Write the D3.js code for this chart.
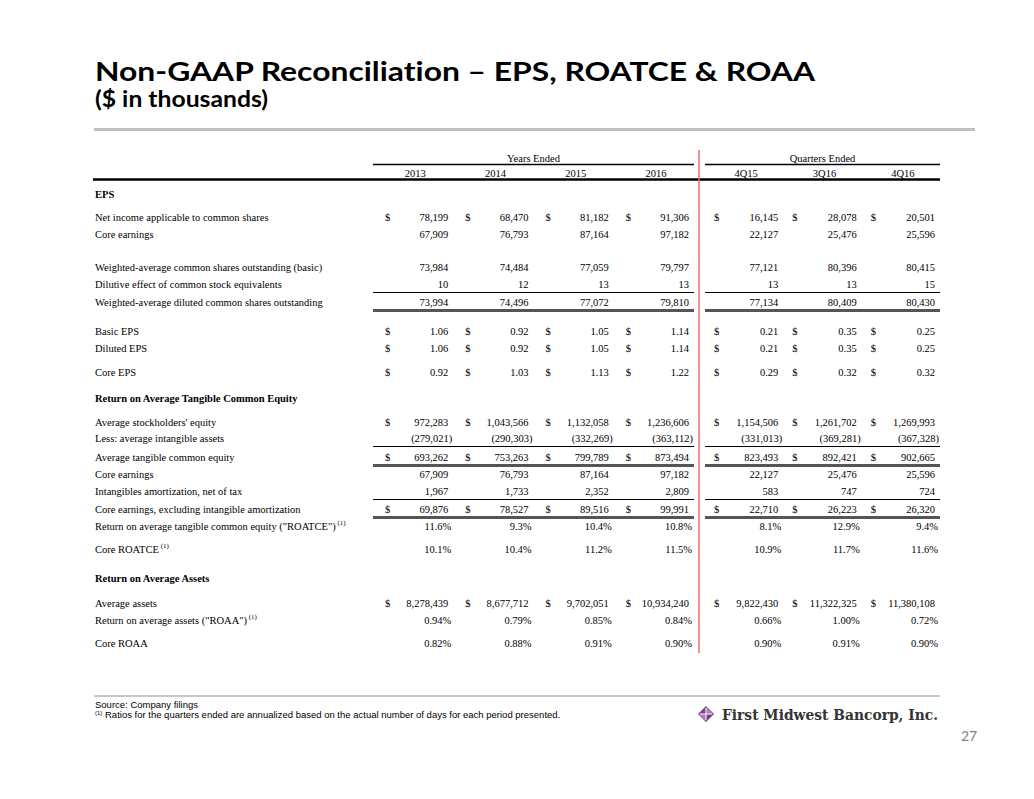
<!DOCTYPE html>
<html><head><meta charset="utf-8">
<script src="https://cdn.jsdelivr.net/npm/d3@7"></script>
<style>body{margin:0;background:#fff}svg{display:block}text{font-variant-ligatures:none}</style>
</head><body>
<svg id="chart" width="1034" height="799"></svg>
<script>
// ---------- DATA ----------
const yearCols = ["2013","2014","2015","2016"];
const quarterCols = ["4Q15","3Q16","4Q16"];
const columns = yearCols.concat(quarterCols);

const netIncome      = [78199, 68470, 81182, 91306, 16145, 28078, 20501];
const coreEarnings   = [67909, 76793, 87164, 97182, 22127, 25476, 25596];
const waBasic        = [73984, 74484, 77059, 79797, 77121, 80396, 80415];
const dilutive       = [10, 12, 13, 13, 13, 13, 15];
const waDiluted      = [73994, 74496, 77072, 79810, 77134, 80409, 80430];
const basicEPS       = [1.06, 0.92, 1.05, 1.14, 0.21, 0.35, 0.25];
const dilutedEPS     = [1.06, 0.92, 1.05, 1.14, 0.21, 0.35, 0.25];
const coreEPS        = [0.92, 1.03, 1.13, 1.22, 0.29, 0.32, 0.32];
const avgEquity      = [972283, 1043566, 1132058, 1236606, 1154506, 1261702, 1269993];
const avgIntangibles = [-279021, -290303, -332269, -363112, -331013, -369281, -367328];
const avgTCE         = [693262, 753263, 799789, 873494, 823493, 892421, 902665];
const intangAmort    = [1967, 1733, 2352, 2809, 583, 747, 724];
const coreExclAmort  = [69876, 78527, 89516, 99991, 22710, 26223, 26320];
const roatce         = [11.6, 9.3, 10.4, 10.8, 8.1, 12.9, 9.4];
const coreRoatce     = [10.1, 10.4, 11.2, 11.5, 10.9, 11.7, 11.6];
const avgAssets      = [8278439, 8677712, 9702051, 10934240, 9822430, 11322325, 11380108];
const roaa           = [0.94, 0.79, 0.85, 0.84, 0.66, 1.00, 0.72];
const coreRoaa       = [0.82, 0.88, 0.91, 0.90, 0.90, 0.91, 0.90];

const rows = [
  {label:"EPS", section:true},
  {label:"Net income applicable to common shares", v:netIncome, f:"int", dollar:true},
  {label:"Core earnings", v:coreEarnings, f:"int"},
  {label:"Weighted-average common shares outstanding (basic)", v:waBasic, f:"int"},
  {label:"Dilutive effect of common stock equivalents", v:dilutive, f:"int", rule:"thin"},
  {label:"Weighted-average diluted common shares outstanding", v:waDiluted, f:"int", rule:"thick"},
  {label:"Basic EPS", v:basicEPS, f:"eps", dollar:true},
  {label:"Diluted EPS", v:dilutedEPS, f:"eps", dollar:true},
  {label:"Core EPS", v:coreEPS, f:"eps", dollar:true},
  {label:"Return on Average Tangible Common Equity", section:true},
  {label:"Average stockholders' equity", v:avgEquity, f:"int", dollar:true},
  {label:"Less: average intangible assets", v:avgIntangibles, f:"int", rule:"thin"},
  {label:"Average tangible common equity", v:avgTCE, f:"int", dollar:true, rule:"thick"},
  {label:"Core earnings", v:coreEarnings, f:"int"},
  {label:"Intangibles amortization, net of tax", v:intangAmort, f:"int", rule:"thin"},
  {label:"Core earnings, excluding intangible amortization", v:coreExclAmort, f:"int", dollar:true, rule:"thick"},
  {label:"Return on average tangible common equity (\"ROATCE\")", v:roatce, f:"pct1", note:true},
  {label:"Core ROATCE", v:coreRoatce, f:"pct1", note:true},
  {label:"Return on Average Assets", section:true},
  {label:"Average assets", v:avgAssets, f:"int", dollar:true},
  {label:"Return on average assets (\"ROAA\")", v:roaa, f:"pct2", note:true},
  {label:"Core ROAA", v:coreRoaa, f:"pct2"}
];

// ---------- LAYOUT ----------
const svg = d3.select("#chart");
const serif = "'Liberation Serif','Times New Roman',serif";
const fs = 10.5;
const rowGaps = [0,23,17,33,17,18,29,17,24,26,24,16,19,17,17,18,17,23,29,25,17,23];
const rowStart = 194;
const rowY = d3.scaleOrdinal().domain(d3.range(rows.length))
  .range(d3.cumsum(rowGaps).map(g => rowStart + g));

const xYears = d3.scaleBand().domain(yearCols).range([373, 694]);
const xQuarters = d3.scaleBand().domain(quarterCols).range([705, 940]);
const isYear = c => yearCols.includes(c);
const xb = c => isYear(c) ? xYears(c) : xQuarters(c);
const bw = c => isYear(c) ? xYears.bandwidth() : xQuarters.bandwidth();

const fmt = {
  int: v => v < 0 ? "(" + d3.format(",")(-v) + ")" : d3.format(",")(v),
  eps: d3.format(".2f"),
  pct1: v => d3.format(".1f")(v) + "%",
  pct2: v => d3.format(".2f")(v) + "%"
};

// Title
svg.append("text").attr("x",95).attr("y",81).attr("font-family","Lato,'Open Sans',sans-serif")
  .attr("font-weight","bold").attr("font-size",27.5).attr("fill","#000")
  .attr("textLength",720).attr("lengthAdjust","spacingAndGlyphs")
  .text("Non-GAAP Reconciliation – EPS, ROATCE & ROAA");
svg.append("text").attr("x",95).attr("y",107).attr("font-family","Lato,'Open Sans',sans-serif")
  .attr("font-weight","bold").attr("font-size",22).attr("fill","#000")
  .attr("textLength",173).attr("lengthAdjust","spacingAndGlyphs")
  .text("($ in thousands)");
svg.append("line").attr("x1",94).attr("x2",975).attr("y1",129.5).attr("y2",129.5)
  .attr("stroke","#c0c0c0").attr("stroke-width",3);

// Header
const g = svg.append("g").attr("font-family",serif).attr("font-size",fs).attr("fill","#000");
[[xYears,"Years Ended"],[xQuarters,"Quarters Ended"]].forEach(([s,t]) => {
  const [a,b] = s.range();
  g.append("text").attr("x",(a+b)/2).attr("y",161.5).attr("text-anchor","middle").text(t);
  g.append("line").attr("x1",a).attr("x2",b).attr("y1",164.5).attr("y2",164.5)
    .attr("stroke","#000").attr("stroke-width",1.5);
});
g.selectAll("text.col").data(columns).join("text").attr("class","col")
  .attr("x", d => xb(d) + bw(d)/2 + 2).attr("y",176.5).attr("text-anchor","middle").text(d => d);
g.append("line").attr("x1",93).attr("x2",940).attr("y1",179.5).attr("y2",179.5)
  .attr("stroke","#000").attr("stroke-width",2.5);

// Red separator
svg.append("line").attr("x1",699).attr("x2",699).attr("y1",150).attr("y2",653)
  .attr("stroke","#ee6a6a").attr("stroke-width",1.5);

// Rows
rows.forEach((r,i) => {
  const y = rowY(i);
  const lbl = g.append("text").attr("x",95).attr("y",y+3.5)
    .attr("font-weight", r.section ? "bold" : null).text(r.label);
  if (r.note) {
    lbl.append("tspan").attr("font-size",7).attr("dy",-5).text(" (1)");
  }
  if (!r.v) return;
  columns.forEach((c,j) => {
    const v = r.v[j];
    const right = xb(c) + bw(c) - 5;
    let shift = 0;
    if (r.f === "int" && v < 0) shift = 4;
    if (r.f === "pct1" || r.f === "pct2") shift = 3;
    g.append("text").attr("x", right + shift).attr("y", y+3.5).attr("text-anchor","end").text(fmt[r.f](v));
    if (r.dollar) g.append("text").attr("x", xb(c) + (isYear(c)?12:9)).attr("y", y+3.5).text("$");
  });
  if (r.rule) {
    [xYears, xQuarters].forEach(s => {
      const [a,b] = s.range();
      g.append("line").attr("x1",a).attr("x2",b).attr("y1",y+8.5).attr("y2",y+8.5)
        .attr("stroke", r.rule === "thick" ? "#555" : "#000")
        .attr("stroke-width", r.rule === "thick" ? 3 : 1);
    });
  }
});

// Footer
svg.append("line").attr("x1",94).attr("x2",940).attr("y1",696).attr("y2",696)
  .attr("stroke","#c8c8c8").attr("stroke-width",2);
const ff = svg.append("g").attr("font-family","'Liberation Sans',Arial,sans-serif").attr("font-size",9.5).attr("fill","#000");
ff.append("text").attr("x",95).attr("y",707.5).text("Source: Company filings");
const fn = ff.append("text").attr("x",95).attr("y",717.5);
fn.append("tspan").attr("font-size",6).attr("dy",-3).text("(1)");
fn.append("tspan").attr("dy",3).text(" Ratios for the quarters ended are annualized based on the actual number of days for each period presented.");

// Logo
const lg = svg.append("g").attr("transform","translate(706,714)");
lg.append("path").attr("d","M0,-8 L8,0 L0,8 L-8,0 Z").attr("fill","#7b3f8c");
lg.append("path").attr("d","M0,-8 L8,0 L0,0 Z").attr("fill","#a77bb5");
lg.append("path").attr("d","M-8,0 L0,0 L0,8 Z").attr("fill","#a77bb5");
lg.append("line").attr("x1",-6).attr("x2",6).attr("y1",0).attr("y2",0).attr("stroke","#fff").attr("stroke-width",1);
lg.append("line").attr("x1",0).attr("x2",0).attr("y1",-6).attr("y2",6).attr("stroke","#fff").attr("stroke-width",1);
svg.append("text").attr("x",722).attr("y",720).attr("font-family","'DejaVu Serif',serif")
  .attr("font-size",15.5).attr("font-weight","bold").attr("fill","#333").attr("textLength",216).attr("lengthAdjust","spacingAndGlyphs")
  .text("First Midwest Bancorp, Inc.");
svg.append("text").attr("x",969).attr("y",741).attr("text-anchor","middle")
  .attr("font-family","Lato,'Open Sans',sans-serif").attr("font-size",14).attr("fill","#7f7f7f").text("27");
</script>
</body></html>
